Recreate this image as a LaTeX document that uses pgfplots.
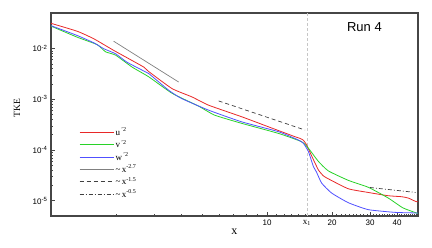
\documentclass[border=0pt]{standalone}
\usepackage{fontspec}
\setmainfont{Liberation Serif}
\setsansfont{Liberation Sans}
\usepackage{pgfplots}
\pgfplotsset{compat=1.18}
\definecolor{cred}{RGB}{232,40,40}
\definecolor{cgreen}{RGB}{40,210,40}
\definecolor{cblue}{RGB}{80,80,255}
\definecolor{axgray}{RGB}{70,70,70}
\begin{document}
\begin{tikzpicture}
\useasboundingbox (-51pt,-32pt) rectangle (381pt,216pt);
\begin{axis}[
  at={(0,0)}, anchor=south west,
  scale only axis, width=367pt, height=203pt,
  xmode=log, ymode=log,
  xmin=1, xmax=50, ymin=5e-6, ymax=0.05,
  axis line style={axgray, line width=1.1pt},
  tick align=inside, xtick pos=lower, ytick pos=left,
  major tick length=4pt, minor tick length=2.5pt,
  every tick/.style={axgray, line width=0.5pt},
  xtick={10,20,30,40}, xticklabels={10,20,30,40},
  minor xtick={2,3,4,5,6,7,8,9,11,12,13,14,15,16,17,18,19,21,22,23,24,25,26,27,28,29,31,32,33,34,35,36,37,38,39,41,42,43,44,45,46,47,48,49},
  extra x ticks={15.3}, extra x tick labels={x\textsubscript{1}},
  extra x tick style={grid=major, major grid style={gray!45, densely dashed, line width=0.4pt},
    tick style={draw=none},
    xticklabel style={font=\fontsize{9}{10}\selectfont, yshift=-1pt}},
  ytick={1e-5,1e-4,1e-3,1e-2},
  yticklabels={10\textsuperscript{-5},10\textsuperscript{-4},10\textsuperscript{-3},10\textsuperscript{-2}},
  tick label style={font=\sffamily\fontsize{8}{9}\selectfont},
  xlabel={x},
  xlabel style={at={(axis description cs:0.5,0)}, anchor=center, yshift=-16pt, font=\fontsize{12}{13}\selectfont},
  ylabel={TKE},
  ylabel style={at={(axis description cs:-0.0926,0.53)}, anchor=center, font=\fontsize{9.5}{10}\selectfont},
  legend cell align=left,
  legend image code/.code={\draw[#1] (0pt,0pt) -- (34pt,0pt);},
  legend style={draw=none, fill=none, at={(axis description cs:0.076,0.4425)}, anchor=north west,
    font=\fontsize{9}{10}\selectfont, row sep=0pt, inner sep=0pt,
    nodes={inner sep=1.5pt}},
]
\addlegendimage{draw=cred, line width=1pt}
\addlegendentry{u\textsuperscript{\,'2}}
\addlegendimage{draw=cgreen, line width=1pt}
\addlegendentry{v\textsuperscript{\,'2}}
\addlegendimage{draw=cblue, line width=1pt}
\addlegendentry{w\textsuperscript{\,'2}}
\addplot[cred, line width=0.8pt, smooth, tension=0.3, forget plot] coordinates {
(1,0.0313) (1.323,0.02183) (1.58,0.01549) (1.954,0.00914) (2.689,0.0043) (2.836,0.0035)
(3.634,0.00162) (4.494,0.00111) (5.369,0.000762) (7.65,0.00045) (10.16,0.000286)
(13.5,0.000182) (14.28,0.000168) (14.75,0.000155) (15.27,0.000125) (16.1,7.62e-5)
(17.29,4.05e-5) (18.24,3.09e-5) (19.23,2.7e-5) (23.79,1.72e-5) (29.43,1.455e-5)
(36.41,1.254e-5) (42,1.2e-5) (45.05,1.13e-5) (48.7,9.7e-6) (50,9.5e-6)};
\addplot[cgreen, line width=0.8pt, smooth, tension=0.3, forget plot] coordinates {
(1,0.0276) (1.323,0.01667) (1.636,0.0119) (1.789,0.0086) (1.99,0.0074) (2.374,0.0043)
(2.836,0.00276) (3.634,0.00131) (4.827,0.000729) (5.72,0.000486) (7.65,0.000334)
(11.3,0.000212) (14.43,0.000146) (15.55,0.000108) (17.29,5.96e-5) (19.23,3.87e-5)
(23.79,2.52e-5) (29.43,1.84e-5) (36.41,1.13e-5) (42.5,7.26e-6) (48.7,5.82e-6) (50,5.6e-6)};
\addplot[cblue, line width=0.8pt, smooth, tension=0.3, forget plot] coordinates {
(1,0.0282) (1.323,0.018) (1.58,0.0129) (1.757,0.00986) (1.99,0.00788) (2.244,0.00539)
(2.689,0.0036) (2.836,0.0032) (3.508,0.0015) (4.029,0.00103) (5.369,0.000608)
(7.625,0.000359) (11.3,0.000229) (13.98,0.000157) (14.75,0.000135) (15.55,9.27e-5)
(16.4,4.71e-5) (16.93,3.71e-5) (17.91,2.22e-5) (19.92,1.416e-5) (23.79,9.14e-6)
(29.43,6.67e-6) (39.09,5.9e-6) (48.7,5.74e-6) (50,5.7e-6)};
\addplot[gray, line width=0.7pt] coordinates {(1.95,0.0139) (3.9,0.00218)};
\addlegendentry{\textasciitilde\,x\textsuperscript{-2.7}}
\addplot[black!75, line width=0.7pt, dash pattern=on 4pt off 3pt] coordinates {(5.97,0.000926) (15.01,0.000247)};
\addlegendentry{\textasciitilde\,x\textsuperscript{-1.5}}
\addplot[black!75, line width=0.7pt, dash pattern=on 4pt off 2pt on 1pt off 2pt] coordinates {(29.97,1.823e-5) (48.7,1.455e-5)};
\addlegendentry{\textasciitilde\,x\textsuperscript{-0.5}}
\node[font=\sffamily\fontsize{13}{14}\selectfont] at (axis description cs:0.854,0.933) {Run 4};
\end{axis}
\end{tikzpicture}
\end{document}
